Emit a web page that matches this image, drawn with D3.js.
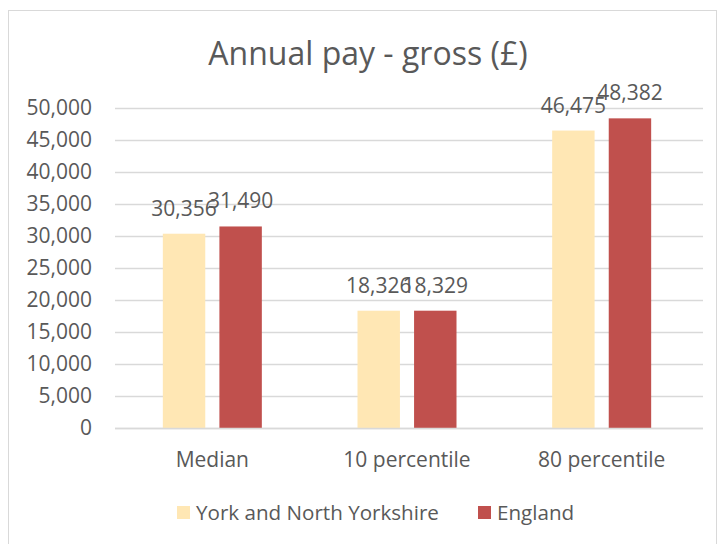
<!DOCTYPE html>
<html>
<head>
<meta charset="utf-8">
<script src="https://cdn.jsdelivr.net/npm/d3@7"></script>
<style>
  body { margin: 0; background: #fff; }
  text { font-family: "Open Sans", sans-serif; fill: #595959; }
</style>
</head>
<body>
<div id="container"></div>
<script>
var scene_width = 719, scene_height = 544

var categories = ['Median', '10 percentile', '80 percentile']
var seriesNames = ['York and North Yorkshire', 'England']
var seriesColors = ['#FFE7B4', '#C0504D']
var york = [30356, 18326, 46475]
var england = [31490, 18329, 48382]
var yTicks = [0, 5000, 10000, 15000, 20000, 25000, 30000, 35000, 40000, 45000, 50000]

var values = [york, england]
var fmt = d3.format(',')

var svg = d3.select('#container').append('svg')
    .attr('width', scene_width)
    .attr('height', scene_height)

// chart border
svg.append('rect')
    .attr('x', 8.5).attr('y', 10.5)
    .attr('width', 708).attr('height', 540)
    .attr('fill', 'none')
    .attr('stroke', '#D9D9D9')

svg.append('text')
    .attr('x', 368).attr('y', 65)
    .attr('text-anchor', 'middle')
    .style('font-size', '32px')
    .text('Annual pay - gross (£)')

var x = d3.scaleBand().domain(categories).range([115, 699])
var y = d3.scaleLinear().domain([0, 50000]).range([428, 108])
var inner = d3.scaleBand().domain([0, 1]).range([0, 99]).paddingInner(0.25)

// gridlines
svg.append('g')
    .selectAll('line')
    .data(yTicks)
    .join('line')
    .attr('x1', 115).attr('x2', 703)
    .attr('y1', d => y(d) + 0.5).attr('y2', d => y(d) + 0.5)
    .attr('stroke', '#D9D9D9')
    .attr('stroke-width', 1.5)

// y tick labels
svg.append('g')
    .selectAll('text')
    .data(yTicks)
    .join('text')
    .attr('x', 92)
    .attr('y', d => y(d) + 7)
    .attr('text-anchor', 'end')
    .style('font-size', '21px')
    .text(d => fmt(d))

// bars + labels (labels overlap as in the original)
values.forEach(function(vals, s) {
    var g = svg.append('g')
    g.selectAll('rect')
        .data(vals)
        .join('rect')
        .attr('x', (d, i) => x(categories[i]) + x.bandwidth()/2 - 49.5 + inner(s))
        .attr('y', d => y(d))
        .attr('width', inner.bandwidth())
        .attr('height', d => y(0) - y(d))
        .attr('fill', seriesColors[s])
    g.selectAll('text')
        .data(vals)
        .join('text')
        .attr('x', (d, i) => x(categories[i]) + x.bandwidth()/2 - 49.5 + inner(s) + inner.bandwidth()/2)
        .attr('y', d => y(d) - 18)
        .attr('text-anchor', 'middle')
        .style('font-size', '21px')
        .text(d => fmt(d))
})

// axis line
svg.append('line')
    .attr('x1', 115).attr('x2', 703)
    .attr('y1', 428.5).attr('y2', 428.5)
    .attr('stroke', '#D9D9D9')
    .attr('stroke-width', 1.5)

// category labels
svg.append('g')
    .selectAll('text')
    .data(categories)
    .join('text')
    .attr('x', d => x(d) + x.bandwidth()/2)
    .attr('y', 467)
    .attr('text-anchor', 'middle')
    .style('font-size', '21px')
    .text(d => d)

// legend
var legX = [177, 478]
var leg = svg.append('g')
    .selectAll('g')
    .data(seriesNames)
    .join('g')
    .attr('transform', (d, i) => 'translate(' + legX[i] + ',506)')
leg.append('rect')
    .attr('width', 13).attr('height', 13)
    .attr('fill', (d, i) => seriesColors[i])
leg.append('text')
    .attr('x', 19).attr('y', 14)
    .style('font-size', '20.6px')
    .text(d => d)
</script>
</body>
</html>
